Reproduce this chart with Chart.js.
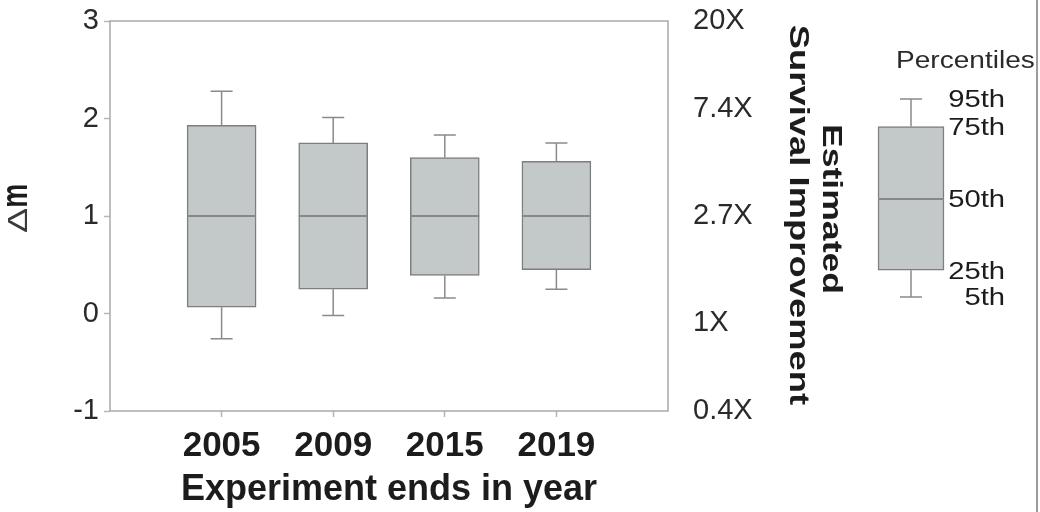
<!DOCTYPE html>
<html>
<head>
<meta charset="utf-8">
<script src="https://cdn.jsdelivr.net/npm/chart.js@4/dist/chart.umd.min.js"></script>
<style>
  html, body { margin: 0; padding: 0; background: #fff; }
  #wrap { position: relative; width: 1040px; height: 512px; overflow: hidden; background: #fff; }
  #main { position: absolute; left: 0; top: 0; }
  #key { position: absolute; left: 860px; top: 0; }
  #edge { position: absolute; left: 1036px; top: 0; width: 0; height: 512px; border-left: 2px solid #9c9c9c; }
</style>
</head>
<body>
<div id="wrap">
  <canvas id="main" width="1040" height="512"></canvas>
  <canvas id="key" width="180" height="330"></canvas>
  <div id="edge"></div>
</div>
<script>
// Δm distribution per experiment end year
const years = ['2005', '2009', '2015', '2019'];
const p5  = [-0.26, -0.02, 0.16, 0.25];
const p25 = [0.065, 0.25, 0.39, 0.45];
const p50 = [1.0, 1.0, 1.0, 1.0];
const p75 = [1.93, 1.75, 1.60, 1.56];
const p95 = [2.28, 2.01, 1.83, 1.75];

// axis ticks
const leftTicks = [-1, 0, 1, 2, 3];
const rightTickValues = [3, 2.1, 1, -0.1, -1];
const rightTickLabels = ['20X', '7.4X', '2.7X', '1X', '0.4X'];

// percentile key glyph
const keyLabels = ['5th', '25th', '50th', '75th', '95th'];
const keyLevels = [0, 1.0, 3.66, 6.37, 7.4];

const FONT = "'Liberation Sans', Arial, Helvetica, sans-serif";
Chart.defaults.font.family = FONT;

const BOX_FILL = '#c3c8c8';
const BOX_EDGE = '#7e7e7e';
const WHISKER = '#8a8a8a';
const TEXT = '#1c1c1c';

// category slots: one empty slot on each side of the four years
const slots = [''].concat(years, ['']);
const boxData = slots.map((_, i) => (i >= 1 && i <= years.length) ? [p25[i - 1], p75[i - 1]] : null);

function drawStretched(ctx, text, x, y, rot, sx, sy, font, color, align, baseline) {
  ctx.save();
  ctx.translate(x, y);
  ctx.rotate(rot);
  ctx.scale(sx, sy);
  ctx.font = font;
  ctx.fillStyle = color;
  ctx.textAlign = align;
  ctx.textBaseline = baseline;
  ctx.fillText(text, 0, 0);
  ctx.restore();
}

// vertical axes: fixed width, no extra room reserved for the end labels
function fixVertical(width) {
  return (s) => { s.width = width; s.paddingTop = 0; s.paddingBottom = 0; };
}

const boxPlugin = {
  id: 'boxParts',
  afterDatasetsDraw(chart) {
    const ctx = chart.ctx;
    const ys = chart.scales.y;
    const meta = chart.getDatasetMeta(0);
    ctx.save();
    ctx.lineCap = 'butt';
    years.forEach((_, k) => {
      const bar = meta.data[k + 1];
      const x = bar.x;
      const half = bar.width / 2;
      const yLo = ys.getPixelForValue(p5[k]);
      const yQ1 = ys.getPixelForValue(p25[k]);
      const yMed = ys.getPixelForValue(p50[k]);
      const yQ3 = ys.getPixelForValue(p75[k]);
      const yHi = ys.getPixelForValue(p95[k]);
      ctx.strokeStyle = WHISKER;
      ctx.lineWidth = 1.5;
      ctx.beginPath();
      ctx.moveTo(x, yQ3); ctx.lineTo(x, yHi);
      ctx.moveTo(x - 11, yHi); ctx.lineTo(x + 11, yHi);
      ctx.moveTo(x, yQ1); ctx.lineTo(x, yLo);
      ctx.moveTo(x - 11, yLo); ctx.lineTo(x + 11, yLo);
      ctx.stroke();
      ctx.strokeStyle = '#888888';
      ctx.lineWidth = 2;
      ctx.beginPath();
      ctx.moveTo(x - half, yMed); ctx.lineTo(x + half, yMed);
      ctx.stroke();
    });
    ctx.restore();
  },
  afterDraw(chart) {
    const ctx = chart.ctx;
    const a = chart.chartArea;
    // plot frame
    ctx.save();
    ctx.strokeStyle = '#a9a9a9';
    ctx.lineWidth = 1.5;
    ctx.strokeRect(a.left, a.top, a.right - a.left, a.bottom - a.top);
    ctx.restore();

    // left axis title: Δm, reading upward
    const mid = (a.top + a.bottom) / 2;
    ctx.save();
    ctx.font = '27px ' + FONT;
    const wDelta = ctx.measureText('Δ').width * 1.4;
    ctx.restore();
    drawStretched(ctx, 'Δ', 27, mid + 17, -Math.PI / 2, 1.4, 1, '27px ' + FONT, '#3a3a3a', 'left', 'alphabetic');
    ctx.save();
    ctx.translate(27, mid + 17);
    ctx.rotate(-Math.PI / 2);
    ctx.translate(wDelta, 0);
    ctx.scale(1, 1.4);
    ctx.font = 'bold 27px ' + FONT;
    ctx.fillStyle = TEXT;
    ctx.textAlign = 'left';
    ctx.textBaseline = 'alphabetic';
    ctx.fillText('m', 0, 0);
    ctx.restore();

    // right axis title, reading downward
    drawStretched(ctx, 'Survival Improvement', 790, mid - 1, Math.PI / 2, 1.3, 1, 'bold 28px ' + FONT, TEXT, 'center', 'alphabetic');
    drawStretched(ctx, 'Estimated', 823, mid - 7, Math.PI / 2, 1.27, 1, 'bold 28px ' + FONT, TEXT, 'center', 'alphabetic');
  }
};

new Chart(document.getElementById('main'), {
  type: 'bar',
  data: {
    labels: slots,
    datasets: [{
      data: boxData,
      backgroundColor: BOX_FILL,
      borderColor: BOX_EDGE,
      borderWidth: 1.5,
      borderSkipped: false,
      barThickness: 69
    }]
  },
  options: {
    responsive: false,
    animation: false,
    events: [],
    layout: { padding: { top: 21, left: 0, right: 0, bottom: 0 } },
    plugins: { legend: { display: false }, tooltip: { enabled: false } },
    scales: {
      x: {
        type: 'category',
        offset: false,
        grid: {
          offset: false,
          drawOnChartArea: false,
          tickLength: 6,
          tickWidth: 1.5,
          tickColor: (c) => (c.index === 0 || c.index === slots.length - 1) ? 'rgba(0,0,0,0)' : '#b4b4b4'
        },
        border: { display: false },
        ticks: {
          autoSkip: false,
          maxRotation: 0,
          padding: 8,
          color: TEXT,
          font: { size: 35, weight: 'bold' }
        },
        title: {
          display: true,
          text: 'Experiment ends in year',
          color: TEXT,
          font: { size: 36, weight: 'bold' },
          padding: { top: 0, bottom: 0 }
        },
        afterFit: (s) => { s.height = 101; s.paddingLeft = 0; s.paddingRight = 0; }
      },
      y: {
        position: 'left',
        min: -1,
        max: 3,
        afterBuildTicks: (s) => { s.ticks = leftTicks.map(v => ({ value: v })); },
        grid: { drawOnChartArea: false, tickLength: 6, tickWidth: 1.5, tickColor: '#b8b8b8' },
        border: { display: false },
        ticks: { color: '#2a2a2a', font: { size: 29 }, padding: 5, callback: (v) => String(v) },
        afterFit: fixVertical(110)
      },
      y2: {
        position: 'right',
        min: -1,
        max: 3,
        afterBuildTicks: (s) => { s.ticks = rightTickValues.map(v => ({ value: v })); },
        grid: { drawOnChartArea: false, drawTicks: false },
        border: { display: false },
        ticks: { color: '#2a2a2a', font: { size: 29 }, padding: 25, callback: (v, i) => rightTickLabels[i] },
        afterFit: fixVertical(1040 - 668)
      }
    }
  },
  plugins: [boxPlugin]
});

// percentile key
const keyPlugin = {
  id: 'keyParts',
  afterDatasetsDraw(chart) {
    const ctx = chart.ctx;
    const ys = chart.scales.y;
    const bar = chart.getDatasetMeta(0).data[0];
    const x = bar.x;
    const half = bar.width / 2;
    const py = keyLevels.map(v => ys.getPixelForValue(v));
    ctx.save();
    ctx.strokeStyle = WHISKER;
    ctx.lineWidth = 1.5;
    ctx.beginPath();
    ctx.moveTo(x, py[3]); ctx.lineTo(x, py[4]);
    ctx.moveTo(x - 11, py[4]); ctx.lineTo(x + 11, py[4]);
    ctx.moveTo(x, py[1]); ctx.lineTo(x, py[0]);
    ctx.moveTo(x - 11, py[0]); ctx.lineTo(x + 11, py[0]);
    ctx.stroke();
    ctx.strokeStyle = '#888888';
    ctx.lineWidth = 2;
    ctx.beginPath();
    ctx.moveTo(x - half, py[2]); ctx.lineTo(x + half, py[2]);
    ctx.stroke();
    ctx.restore();

    const labelRight = chart.chartArea.right + 43;
    keyLabels.forEach((t, i) => {
      drawStretched(ctx, t, labelRight, py[i] + 2, 0, 1.27, 1, '23px ' + FONT, TEXT, 'right', 'middle');
    });
    drawStretched(ctx, 'Percentiles', 36, 68, 0, 1.22, 1, '23px ' + FONT, '#2a2a2a', 'left', 'alphabetic');
  }
};

new Chart(document.getElementById('key'), {
  type: 'bar',
  data: {
    labels: ['key'],
    datasets: [{
      data: [[keyLevels[1], keyLevels[3]]],
      backgroundColor: BOX_FILL,
      borderColor: BOX_EDGE,
      borderWidth: 1.5,
      borderSkipped: false,
      barThickness: 66
    }]
  },
  options: {
    responsive: false,
    animation: false,
    events: [],
    layout: { padding: { top: 99, bottom: 33, left: 0, right: 78 } },
    plugins: { legend: { display: false }, tooltip: { enabled: false } },
    scales: {
      x: { display: false },
      y: { display: false, min: keyLevels[0], max: keyLevels[4] }
    }
  },
  plugins: [keyPlugin]
});
</script>
</body>
</html>
